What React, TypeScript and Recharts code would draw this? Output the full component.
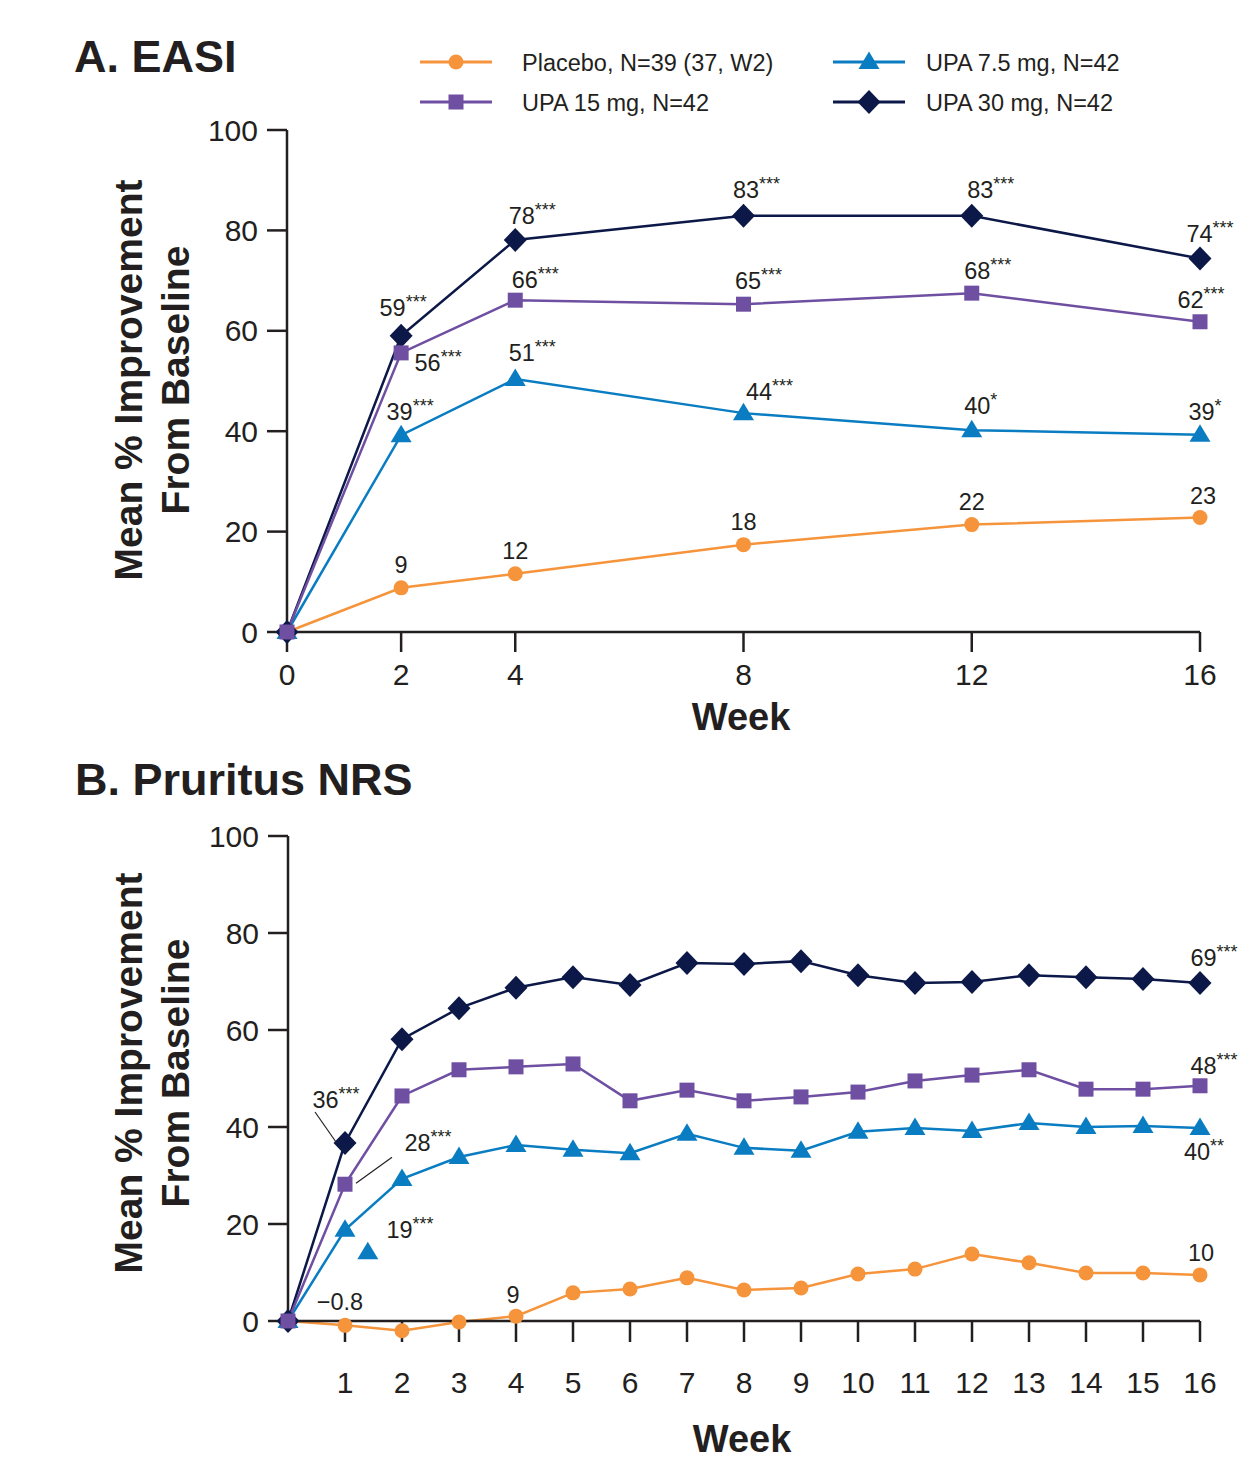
import React from 'react';
import { LineChart, ComposedChart, Line, Scatter, XAxis, YAxis } from 'recharts';

const FONT = "'Liberation Sans', Arial, Helvetica, sans-serif";
const INK = '#231f20';

// ---------- Panel A: EASI ----------
const easiWeeks = [0, 2, 4, 8, 12, 16];
const easiPlacebo = [0, 8.8, 11.6, 17.4, 21.4, 22.8];
const easiUpa75 = [0, 39.2, 50.4, 43.6, 40.2, 39.3];
const easiUpa15 = [0, 55.6, 66.1, 65.3, 67.5, 61.8];
const easiUpa30 = [0, 59.0, 78.1, 82.9, 82.9, 74.4];
const easiPlaceboLabels = ['', '9', '12', '18', '22', '23'];
const easiUpa75Labels = ['', '39***', '51***', '44***', '40*', '39*'];
const easiUpa15Labels = ['', '56***', '66***', '65***', '68***', '62***'];
const easiUpa30Labels = ['', '59***', '78***', '83***', '83***', '74***'];
const easiXTicks = [0, 2, 4, 8, 12, 16];

// ---------- Panel B: Pruritus NRS ----------
const nrsWeeks = [0, 1, 2, 3, 4, 5, 6, 7, 8, 9, 10, 11, 12, 13, 14, 15, 16];
const nrsPlacebo = [0, -0.9, -2.0, -0.2, 1.0, 5.8, 6.6, 8.9, 6.4, 6.8, 9.7, 10.7, 13.8, 12.0, 9.9, 9.9, 9.5];
const nrsUpa75 = [0, 18.8, 29.3, 33.8, 36.3, 35.3, 34.6, 38.6, 35.7, 35.1, 39.0, 39.8, 39.2, 40.8, 40.0, 40.2, 39.8];
const nrsUpa15 = [0, 28.2, 46.4, 51.8, 52.4, 53.0, 45.4, 47.6, 45.4, 46.2, 47.2, 49.5, 50.7, 51.8, 47.8, 47.8, 48.5];
const nrsUpa30 = [0, 36.7, 58.1, 64.5, 68.7, 70.9, 69.3, 73.8, 73.6, 74.2, 71.3, 69.7, 69.9, 71.3, 70.9, 70.5, 69.7];
const nrsPlaceboLabels = ['', '\u22120.8', '', '', '9', '', '', '', '', '', '', '', '', '', '', '', '10'];
const nrsUpa75Labels = ['', '19***', '', '', '', '', '', '', '', '', '', '', '', '', '', '', '40**'];
const nrsUpa15Labels = ['', '28***', '', '', '', '', '', '', '', '', '', '', '', '', '', '', '48***'];
const nrsUpa30Labels = ['', '36***', '', '', '', '', '', '', '', '', '', '', '', '', '', '', '69***'];
const nrsStrayWeek = [1.4];
const nrsStrayUpa75 = [14.2];
const nrsXTicks = [1, 2, 3, 4, 5, 6, 7, 8, 9, 10, 11, 12, 13, 14, 15, 16];

const yTicks = [0, 20, 40, 60, 80, 100];

const seriesNames = ['Placebo, N=39 (37, W2)', 'UPA 7.5 mg, N=42', 'UPA 15 mg, N=42', 'UPA 30 mg, N=42'];

const COLORS = {
  placebo: '#f6943c',
  upa75: '#0a7dc2',
  upa15: '#6e4fa2',
  upa30: '#0c1847',
};

const easiRows = easiWeeks.map((w, i) => ({
  week: w,
  placebo: easiPlacebo[i],
  upa75: easiUpa75[i],
  upa15: easiUpa15[i],
  upa30: easiUpa30[i],
}));

const nrsRows = nrsWeeks.map((w, i) => ({
  week: w,
  placebo: nrsPlacebo[i],
  upa75: nrsUpa75[i],
  upa15: nrsUpa15[i],
  upa30: nrsUpa30[i],
}));

const strayRows = nrsStrayWeek.map((w, i) => ({ week: w, upa75: nrsStrayUpa75[i] }));

type Shape = 'circle' | 'square' | 'triangle' | 'diamond';

function Marker({ shape, cx, cy, color }: { shape: Shape; cx: number; cy: number; color: string }) {
  if (cx == null || cy == null || isNaN(cx) || isNaN(cy)) return null;
  if (shape === 'circle') return <circle cx={cx} cy={cy} r={7.5} fill={color} />;
  if (shape === 'square') return <rect x={cx - 7.5} y={cy - 7.5} width={15} height={15} fill={color} />;
  if (shape === 'triangle')
    return <polygon points={`${cx},${cy - 10.5} ${cx + 10.5},${cy + 7} ${cx - 10.5},${cy + 7}`} fill={color} />;
  return <polygon points={`${cx},${cy - 12} ${cx + 11.5},${cy} ${cx},${cy + 12} ${cx - 11.5},${cy}`} fill={color} />;
}

function StarText({ x, y, text }: { x: number; y: number; text: string }) {
  const m = text.match(/^([^*]*)(\**)$/);
  const main = m ? m[1] : text;
  const stars = m ? m[2] : '';
  return (
    <text x={x} y={y + 8.5} textAnchor="middle" fontSize={23.5} fill={INK} fontFamily={FONT}>
      <tspan>{main}</tspan>
      {stars ? (
        <tspan fontSize={18} dy={-8}>
          {stars}
        </tspan>
      ) : null}
    </text>
  );
}

type Off = { dx: number; dy: number; leader?: [number, number, number, number] };

function makeLabel(texts: string[], offsets: Record<number, Off>, defaultOff: Off) {
  return (props: any) => {
    const { x, y, index } = props;
    const t = texts[index];
    if (!t || x == null || y == null) return null;
    const off = offsets[index] || defaultOff;
    return (
      <g key={`lbl-${index}`}>
        {off.leader ? (
          <line
            x1={x + off.leader[0]}
            y1={y + off.leader[1]}
            x2={x + off.leader[2]}
            y2={y + off.leader[3]}
            stroke={INK}
            strokeWidth={1.2}
          />
        ) : null}
        <StarText x={x + off.dx} y={y + off.dy} text={t} />
      </g>
    );
  };
}

function dotFn(shape: Shape, color: string) {
  return (p: any) => <Marker key={`d-${p.index}`} shape={shape} cx={p.cx} cy={p.cy} color={color} />;
}

const axisStroke = { stroke: INK, strokeWidth: 2.5 };
const tickStyle = { fill: INK, fontSize: 30, fontFamily: FONT };

function EasiChart() {
  return (
    <LineChart
      width={1249}
      height={740}
      data={easiRows}
      margin={{ top: 130, right: 49, bottom: 48, left: 207 }}
    >
      <XAxis
        dataKey="week"
        type="number"
        domain={[0, 16]}
        ticks={easiXTicks}
        interval={0}
        tickSize={20}
        tickMargin={12}
        height={60}
        axisLine={axisStroke}
        tickLine={axisStroke}
        tick={tickStyle}
      />
      <YAxis
        type="number"
        domain={[0, 100]}
        ticks={yTicks}
        interval={0}
        width={80}
        tickSize={20}
        tickMargin={9}
        axisLine={axisStroke}
        tickLine={axisStroke}
        tick={tickStyle}
      />
      <Line
        dataKey="placebo"
        stroke={COLORS.placebo}
        strokeWidth={2.5}
        isAnimationActive={false}
        dot={dotFn('circle', COLORS.placebo)}
        activeDot={false}
        label={makeLabel(easiPlaceboLabels, { 5: { dx: 3, dy: -22 } }, { dx: 0, dy: -23 })}
      />
      <Line
        dataKey="upa75"
        stroke={COLORS.upa75}
        strokeWidth={2.5}
        isAnimationActive={false}
        dot={dotFn('triangle', COLORS.upa75)}
        activeDot={false}
        label={makeLabel(
          easiUpa75Labels,
          { 1: { dx: 9, dy: -24 }, 2: { dx: 17, dy: -26 }, 3: { dx: 26, dy: -22 }, 4: { dx: 9, dy: -25 }, 5: { dx: 5, dy: -23 } },
          { dx: 0, dy: -24 }
        )}
      />
      <Line
        dataKey="upa30"
        stroke={COLORS.upa30}
        strokeWidth={2.5}
        isAnimationActive={false}
        dot={dotFn('diamond', COLORS.upa30)}
        activeDot={false}
        label={makeLabel(
          easiUpa30Labels,
          { 1: { dx: 2, dy: -28 }, 2: { dx: 17, dy: -24 }, 3: { dx: 13, dy: -26 }, 4: { dx: 19, dy: -26 }, 5: { dx: 10, dy: -25 } },
          { dx: 0, dy: -25 }
        )}
      />
      <Line
        dataKey="upa15"
        stroke={COLORS.upa15}
        strokeWidth={2.5}
        isAnimationActive={false}
        dot={dotFn('square', COLORS.upa15)}
        activeDot={false}
        label={makeLabel(
          easiUpa15Labels,
          { 1: { dx: 37, dy: 10 }, 2: { dx: 20, dy: -21 }, 3: { dx: 15, dy: -24 }, 4: { dx: 16, dy: -23 }, 5: { dx: 1, dy: -22 } },
          { dx: 0, dy: -23 }
        )}
      />
    </LineChart>
  );
}

function NrsChart() {
  return (
    <ComposedChart
      width={1249}
      height={724}
      data={nrsRows}
      margin={{ top: 96, right: 49, bottom: 63, left: 208 }}
    >
      <XAxis
        dataKey="week"
        type="number"
        domain={[0, 16]}
        ticks={nrsXTicks}
        interval={0}
        tickSize={21}
        tickMargin={30}
        height={80}
        axisLine={axisStroke}
        tickLine={axisStroke}
        tick={tickStyle}
      />
      <YAxis
        type="number"
        domain={[0, 100]}
        ticks={yTicks}
        interval={0}
        width={80}
        tickSize={20}
        tickMargin={9}
        axisLine={axisStroke}
        tickLine={axisStroke}
        tick={tickStyle}
        allowDataOverflow
      />
      <Line
        dataKey="placebo"
        stroke={COLORS.placebo}
        strokeWidth={2.5}
        isAnimationActive={false}
        dot={dotFn('circle', COLORS.placebo)}
        activeDot={false}
        label={makeLabel(
          nrsPlaceboLabels,
          { 1: { dx: -5, dy: -24 }, 4: { dx: -3, dy: -22 }, 16: { dx: 1, dy: -22 } },
          { dx: 0, dy: -22 }
        )}
      />
      <Line
        dataKey="upa75"
        stroke={COLORS.upa75}
        strokeWidth={2.5}
        isAnimationActive={false}
        dot={dotFn('triangle', COLORS.upa75)}
        activeDot={false}
        label={makeLabel(
          nrsUpa75Labels,
          { 1: { dx: 65, dy: 0 }, 16: { dx: 4, dy: 24 } },
          { dx: 0, dy: -24 }
        )}
      />
      <Line
        dataKey="upa30"
        stroke={COLORS.upa30}
        strokeWidth={2.5}
        isAnimationActive={false}
        dot={dotFn('diamond', COLORS.upa30)}
        activeDot={false}
        label={makeLabel(
          nrsUpa30Labels,
          { 1: { dx: -9, dy: -44, leader: [-30, -31, -9, -1] }, 16: { dx: 14, dy: -25 } },
          { dx: 0, dy: -25 }
        )}
      />
      <Line
        dataKey="upa15"
        stroke={COLORS.upa15}
        strokeWidth={2.5}
        isAnimationActive={false}
        dot={dotFn('square', COLORS.upa15)}
        activeDot={false}
        label={makeLabel(
          nrsUpa15Labels,
          { 1: { dx: 83, dy: -42, leader: [47, -27, 11, -1] }, 16: { dx: 14, dy: -20 } },
          { dx: 0, dy: -22 }
        )}
      />
      <Scatter
        data={strayRows}
        dataKey="upa75"
        isAnimationActive={false}
        shape={(p: any) => <Marker shape="triangle" cx={p.cx} cy={p.cy} color={COLORS.upa75} />}
      />
    </ComposedChart>
  );
}

function Overlay() {
  const legend: { name: string; shape: Shape; color: string; x: number; y: number; tx: number }[] = [
    { name: seriesNames[0], shape: 'circle', color: COLORS.placebo, x: 420, y: 62, tx: 522 },
    { name: seriesNames[1], shape: 'triangle', color: COLORS.upa75, x: 833, y: 62, tx: 926 },
    { name: seriesNames[2], shape: 'square', color: COLORS.upa15, x: 420, y: 102, tx: 522 },
    { name: seriesNames[3], shape: 'diamond', color: COLORS.upa30, x: 833, y: 102, tx: 926 },
  ];
  return (
    <svg
      width={1249}
      height={1464}
      style={{ position: 'absolute', left: 0, top: 0, pointerEvents: 'none' }}
      fontFamily={FONT}
    >
      <text x={74} y={72} fontSize={45} fontWeight="bold" fill={INK}>
        A. EASI
      </text>
      <text x={75} y={795} fontSize={45} fontWeight="bold" fill={INK}>
        B. Pruritus NRS
      </text>
      {legend.map((l) => (
        <g key={l.name}>
          <line x1={l.x} y1={l.y} x2={l.x + 72} y2={l.y} stroke={l.color} strokeWidth={3} />
          <Marker shape={l.shape} cx={l.x + 36} cy={l.y} color={l.color} />
          <text x={l.tx} y={l.y + 8.5} fontSize={23.5} fill={INK}>
            {l.name}
          </text>
        </g>
      ))}
      {[380, 1073].map((cy) => (
        <g key={cy}>
          <text transform={`translate(142,${cy}) rotate(-90)`} textAnchor="middle" fontSize={39} fontWeight="bold" fill={INK}>
            Mean % Improvement
          </text>
          <text transform={`translate(189,${cy}) rotate(-90)`} textAnchor="middle" fontSize={39} fontWeight="bold" fill={INK}>
            From Baseline
          </text>
        </g>
      ))}
      <text x={741} y={730} textAnchor="middle" fontSize={38} fontWeight="bold" fill={INK}>
        Week
      </text>
      <text x={742} y={1452} textAnchor="middle" fontSize={38} fontWeight="bold" fill={INK}>
        Week
      </text>
    </svg>
  );
}

export default function App() {
  return (
    <div style={{ position: 'absolute', left: 0, top: 0, width: 1249, height: 1464, background: '#fff', fontFamily: FONT }}>
      <style>{`.nrs-chart [clip-path] { clip-path: none !important; }`}</style>
      <div style={{ position: 'absolute', left: 0, top: 0 }}>
        <EasiChart />
      </div>
      <div className="nrs-chart" style={{ position: 'absolute', left: 0, top: 740 }}>
        <NrsChart />
      </div>
      <Overlay />
    </div>
  );
}
